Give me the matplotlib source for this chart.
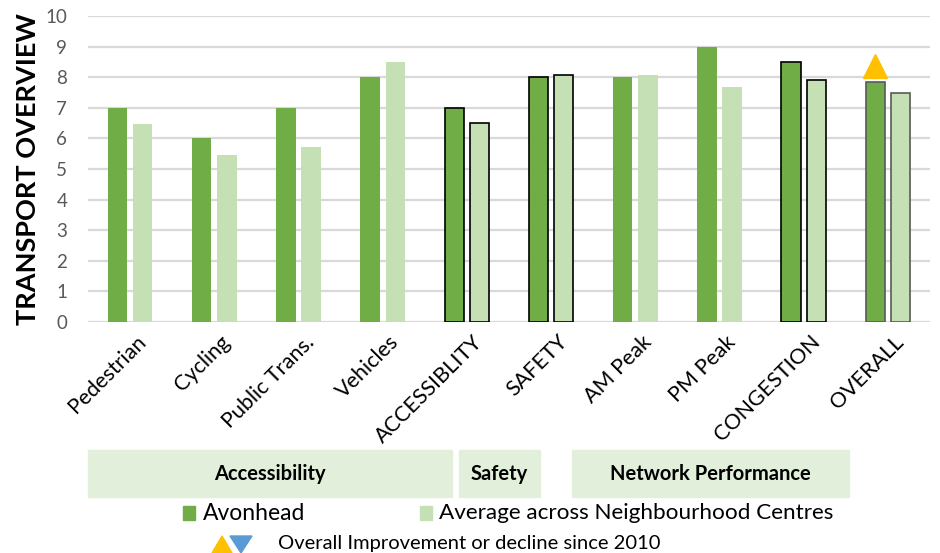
import matplotlib.pyplot as plt
import matplotlib.patches as mpatches
import numpy as np

plt.rcParams['font.family'] = ['Lato', 'DejaVu Sans']

categories = ['Pedestrian', 'Cycling', 'Public Trans.', 'Vehicles', 'ACCESSIBLITY',
              'SAFETY', 'AM Peak', 'PM Peak', 'CONGESTION', 'OVERALL']
avonhead = [7.0, 6.0, 7.0, 8.0, 7.0, 8.0, 8.0, 9.0, 8.5, 7.85]
average = [6.47, 5.45, 5.72, 8.5, 6.5, 8.08, 8.08, 7.68, 7.9, 7.5]
# edge colours of the summary bars
edges = [None, None, None, None, 'black', 'black', None, None, 'black', '#595959']
groups = [('Accessibility', 88, 452), ('Safety', 459, 540), ('Network Performance', 572, 849)]
trend_marker = 8.35  # gold triangle above OVERALL

dark = '#70ad47'
light = '#c5e0b4'

fig = plt.figure(figsize=(9.4, 5.53), dpi=100)
ax = fig.add_axes([88/940, 1-322/553, 842/940, 306/553])

x = np.arange(len(categories))
w = 0.23
for i in x:
    ec = edges[i]
    lw = 1.2 if ec else 0
    ax.bar(i - 0.15, avonhead[i], w, color=dark, edgecolor=ec if ec else dark, linewidth=lw, zorder=3)
    ax.bar(i + 0.15, average[i], w, color=light, edgecolor=ec if ec else light, linewidth=lw, zorder=3)

ax.plot(9 - 0.15, trend_marker, marker='^', color='#ffc000', markersize=17, zorder=4)

ax.set_xlim(-0.5, 9.5)
ax.set_ylim(0, 10)
ax.set_yticks(range(0, 11))
ax.yaxis.grid(True, color='#d9d9d9', linewidth=1.6, zorder=0)
for s in ax.spines.values():
    s.set_visible(False)
ax.tick_params(axis='y', length=0, labelsize=13.5, colors='#595959', pad=15)
ax.set_xticks(x + 0.07)
ax.set_xticklabels(categories, rotation=45, ha='right', rotation_mode='anchor', fontsize=15.5)
ax.tick_params(axis='x', length=0, pad=7)
ax.set_ylabel('TRANSPORT OVERVIEW', fontsize=19.5, fontweight='bold', labelpad=4)

# group boxes below the axis
for name, x0, x1 in groups:
    fig.patches.append(mpatches.Rectangle((x0/940, 1-497/553), (x1-x0)/940, 47/553,
                                          transform=fig.transFigure, color='#e2efda', zorder=0))
    fig.text((x0+x1)/2/940, 1-474/553, name, ha='center', va='center', fontsize=14.5, fontweight='bold')

# legend
fig.patches.append(mpatches.Rectangle((183/940, 1-520/553), 12/940, 14/553, transform=fig.transFigure, color=dark))
fig.text(203/940, 1-513/553, 'Avonhead', va='center', fontsize=16.5)
fig.patches.append(mpatches.Rectangle((420/940, 1-520/553), 12/940, 14/553, transform=fig.transFigure, color=light))
fig.text(439/940, 1-513/553, 'Average across Neighbourhood Centres', va='center', fontsize=16.2)

fig.patches.append(mpatches.Polygon([(212/940, 1-553/553), (232/940, 1-553/553), (222/940, 1-536/553)],
                                    closed=True, transform=fig.transFigure, color='#ffc000'))
fig.patches.append(mpatches.Polygon([(230/940, 1-536/553), (252/940, 1-536/553), (241/940, 1-553/553)],
                                    closed=True, transform=fig.transFigure, color='#5b9bd5'))
fig.text(278/940, 1-543/553, 'Overall Improvement or decline since 2010', va='center', fontsize=14.5)

fig.savefig('out.png', dpi=100)
